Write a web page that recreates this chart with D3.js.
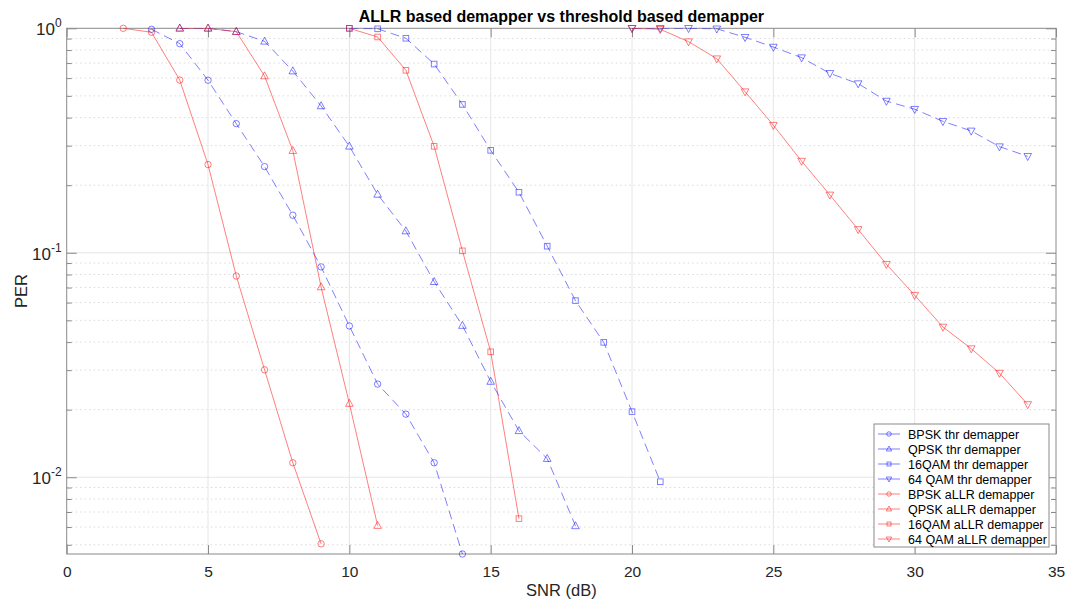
<!DOCTYPE html>
<html>
<head>
<meta charset="utf-8">
<script src="https://cdn.jsdelivr.net/npm/d3@7"></script>
<style>
  body { margin: 0; background: #fff; }
  svg { display: block; font-family: 'Liberation Sans', Arial, sans-serif; }
</style>
</head>
<body>
<script>
// SNR points (dB) and PER values
var snrBpskThr = [3, 4, 5, 6, 7, 8, 9, 10, 11, 12, 13, 14];
var perBpskThr = [0.99, 0.854, 0.587, 0.376, 0.242, 0.147, 0.0865, 0.0472, 0.026, 0.0191, 0.0116, 0.00455];

var snrQpskThr = [4, 5, 6, 7, 8, 9, 10, 11, 12, 13, 14, 15, 16, 17, 18];
var perQpskThr = [1, 1, 0.966, 0.875, 0.645, 0.451, 0.298, 0.182, 0.125, 0.0743, 0.0474, 0.0267, 0.0161, 0.0121, 0.00607];

var snr16qamThr = [10, 11, 12, 13, 14, 15, 16, 17, 18, 19, 20, 21];
var per16qamThr = [1, 0.995, 0.903, 0.693, 0.458, 0.286, 0.186, 0.107, 0.0612, 0.0399, 0.0196, 0.00955];

var snr64qamThr = [20, 21, 22, 23, 24, 25, 26, 27, 28, 29, 30, 31, 32, 33, 34];
var per64qamThr = [1, 1, 1, 0.995, 0.912, 0.825, 0.740, 0.630, 0.567, 0.474, 0.436, 0.385, 0.349, 0.297, 0.269];

var snrBpskAllr = [2, 3, 4, 5, 6, 7, 8, 9];
var perBpskAllr = [1, 0.96, 0.588, 0.247, 0.0788, 0.0301, 0.0116, 0.00505];

var snrQpskAllr = [4, 5, 6, 7, 8, 9, 10, 11];
var perQpskAllr = [1, 1, 0.966, 0.613, 0.285, 0.0704, 0.0213, 0.00609];

var snr16qamAllr = [10, 11, 12, 13, 14, 15, 16];
var per16qamAllr = [1, 0.915, 0.650, 0.298, 0.102, 0.0362, 0.00654];

var snr64qamAllr = [20, 21, 22, 23, 24, 25, 26, 27, 28, 29, 30, 31, 32, 33, 34];
var per64qamAllr = [1, 0.99, 0.872, 0.732, 0.522, 0.370, 0.256, 0.181, 0.127, 0.0889, 0.0647, 0.0467, 0.0374, 0.0291, 0.0211];

var xTicks = [0, 5, 10, 15, 20, 25, 30, 35];
var yDecades = [0, -1, -2];

var series = [
    { name: 'BPSK thr demapper', x: snrBpskThr, y: perBpskThr, color: 'blue', dash: '9,5', marker: 'circle' },
    { name: 'QPSK thr demapper', x: snrQpskThr, y: perQpskThr, color: 'blue', dash: '9,5', marker: 'up' },
    { name: '16QAM thr demapper', x: snr16qamThr, y: per16qamThr, color: 'blue', dash: '9,5', marker: 'square' },
    { name: '64 QAM thr demapper', x: snr64qamThr, y: per64qamThr, color: 'blue', dash: '9,5', marker: 'down' },
    { name: 'BPSK aLLR demapper', x: snrBpskAllr, y: perBpskAllr, color: 'red', dash: null, marker: 'circle' },
    { name: 'QPSK aLLR demapper', x: snrQpskAllr, y: perQpskAllr, color: 'red', dash: null, marker: 'up' },
    { name: '16QAM aLLR demapper', x: snr16qamAllr, y: per16qamAllr, color: 'red', dash: null, marker: 'square' },
    { name: '64 QAM aLLR demapper', x: snr64qamAllr, y: per64qamAllr, color: 'red', dash: null, marker: 'down' }
];

var W = 1067, H = 601;
var plot = { left: 66.7, right: 1056, top: 28.3, bottom: 554 };

var x = d3.scaleLinear().domain([0, 35]).range([plot.left, plot.right]);
var y = d3.scaleLog().domain([0.00455, 1]).range([plot.bottom, plot.top]);

var svg = d3.select('body').append('svg')
    .attr('width', W)
    .attr('height', H);

// minor grid (dotted) for the log axis
var minorVals = [];
yDecades.forEach(function(e) {
    for (var k = 2; k <= 9; k++) {
        var v = k * Math.pow(10, e - 1);
        if (v >= y.domain()[0] && v < 1) { minorVals.push(v); }
    }
});

svg.append('g')
  .selectAll('line')
  .data(minorVals)
  .enter().append('line')
    .attr('x1', plot.left).attr('x2', plot.right)
    .attr('y1', function(d) { return y(d); })
    .attr('y2', function(d) { return y(d); })
    .attr('stroke', '#dadada')
    .attr('stroke-width', 1)
    .attr('stroke-dasharray', '1.5,3');

// major grid
svg.append('g')
  .selectAll('line')
  .data(xTicks.slice(1, -1))
  .enter().append('line')
    .attr('x1', function(d) { return x(d); })
    .attr('x2', function(d) { return x(d); })
    .attr('y1', plot.top).attr('y2', plot.bottom)
    .attr('stroke', '#e6e6e6');

svg.append('g')
  .selectAll('line')
  .data(yDecades.slice(1))
  .enter().append('line')
    .attr('x1', plot.left).attr('x2', plot.right)
    .attr('y1', function(d) { return y(Math.pow(10, d)); })
    .attr('y2', function(d) { return y(Math.pow(10, d)); })
    .attr('stroke', '#e6e6e6');

// axes via d3 axis generators, ticks pointing inward
var axisColor = '#8a8a8a';
var styleAxis = function(g) {
    g.select('.domain').remove();
    g.selectAll('.tick line').attr('stroke', axisColor);
};

svg.append('g')
    .attr('transform', 'translate(0,' + plot.bottom + ')')
    .call(d3.axisBottom(x).tickValues(xTicks).tickSize(-9).tickPadding(12).tickFormat(d3.format('d')))
    .call(styleAxis)
    .call(function(g) {
        g.selectAll('.tick text')
          .attr('fill', '#262626')
          .attr('font-size', 15.5)
          .attr('font-family', "'Liberation Sans', Arial, sans-serif");
    });

svg.append('g')
    .attr('transform', 'translate(0,' + plot.top + ')')
    .call(d3.axisTop(x).tickValues(xTicks).tickSize(-9).tickFormat(''))
    .call(styleAxis);

svg.append('g')
    .attr('transform', 'translate(' + plot.left + ',0)')
    .call(d3.axisLeft(y).tickValues(yDecades.map(function(e) { return Math.pow(10, e); })).tickSize(-10).tickFormat(''))
    .call(styleAxis);

svg.append('g')
    .attr('transform', 'translate(' + plot.right + ',0)')
    .call(d3.axisRight(y).tickValues(yDecades.map(function(e) { return Math.pow(10, e); })).tickSize(-10).tickFormat(''))
    .call(styleAxis);

svg.append('g')
    .attr('transform', 'translate(' + plot.left + ',0)')
    .call(d3.axisLeft(y).tickValues(minorVals).tickSize(-5).tickFormat(''))
    .call(styleAxis);

svg.append('g')
    .attr('transform', 'translate(' + plot.right + ',0)')
    .call(d3.axisRight(y).tickValues(minorVals).tickSize(-5).tickFormat(''))
    .call(styleAxis);

// y tick labels 10^e
var yLab = svg.append('g')
  .selectAll('text')
  .data(yDecades)
  .enter().append('text')
    .attr('x', plot.left - 5)
    .attr('y', function(d) { return y(Math.pow(10, d)) + 7; })
    .attr('text-anchor', 'end')
    .attr('fill', '#262626')
    .attr('font-size', 17);
yLab.append('tspan').text('10');
yLab.append('tspan')
    .attr('dy', -8)
    .attr('font-size', 12)
    .text(function(d) { return String(d); });

// plot box
svg.append('rect')
    .attr('x', plot.left).attr('y', plot.top)
    .attr('width', plot.right - plot.left)
    .attr('height', plot.bottom - plot.top)
    .attr('fill', 'none')
    .attr('stroke', axisColor)
    .attr('stroke-width', 1);

// marker drawing
var drawMarker = function(sel, type, size) {
    var s = size || 1;
    if (type === 'circle') {
        sel.append('circle').attr('r', 3.2 * s);
    } else if (type === 'square') {
        sel.append('rect').attr('x', -2.8 * s).attr('y', -2.8 * s).attr('width', 5.6 * s).attr('height', 5.6 * s);
    } else if (type === 'up') {
        sel.append('path').attr('d', 'M0,' + (-4.2 * s) + 'L' + (3.8 * s) + ',' + (2.8 * s) + 'L' + (-3.8 * s) + ',' + (2.8 * s) + 'Z');
    } else {
        sel.append('path').attr('d', 'M0,' + (4.2 * s) + 'L' + (3.8 * s) + ',' + (-2.8 * s) + 'L' + (-3.8 * s) + ',' + (-2.8 * s) + 'Z');
    }
};

var line = d3.line()
    .x(function(d) { return x(d[0]); })
    .y(function(d) { return y(d[1]); });

svg.append('clipPath').attr('id', 'clip')
  .append('rect')
    .attr('x', plot.left).attr('y', plot.top)
    .attr('width', plot.right - plot.left)
    .attr('height', plot.bottom - plot.top);

series.forEach(function(s) {
    var pts = s.x.map(function(v, i) { return [v, s.y[i]]; });
    var g = svg.append('g');
    g.append('path')
        .datum(pts)
        .attr('clip-path', 'url(#clip)')
        .attr('d', line)
        .attr('fill', 'none')
        .attr('stroke', s.color)
        .attr('stroke-opacity', 0.5)
        .attr('stroke-width', 1)
        .attr('stroke-dasharray', s.dash);
    g.selectAll('g.m')
      .data(pts)
      .enter().append('g')
        .attr('class', 'm')
        .attr('transform', function(d) { return 'translate(' + x(d[0]) + ',' + y(d[1]) + ')'; })
        .attr('fill', 'none')
        .attr('stroke', s.color)
        .attr('stroke-opacity', 0.5)
        .each(function() { drawMarker(d3.select(this), s.marker); });
});

// title and axis labels
svg.append('text')
    .attr('x', (plot.left + plot.right) / 2)
    .attr('y', 22)
    .attr('text-anchor', 'middle')
    .attr('font-size', 16)
    .attr('font-weight', 'bold')
    .attr('fill', '#000')
    .text('ALLR based demapper vs threshold based demapper');

svg.append('text')
    .attr('x', (plot.left + plot.right) / 2)
    .attr('y', 596)
    .attr('text-anchor', 'middle')
    .attr('font-size', 16.5)
    .attr('fill', '#262626')
    .text('SNR (dB)');

svg.append('text')
    .attr('transform', 'translate(27,' + ((plot.top + plot.bottom) / 2) + ') rotate(-90)')
    .attr('text-anchor', 'middle')
    .attr('font-size', 16.5)
    .attr('fill', '#262626')
    .text('PER');

// legend
var leg = { x: 874, y: 424, w: 175, h: 123, row: 15 };
var legend = svg.append('g');
legend.append('rect')
    .attr('x', leg.x).attr('y', leg.y)
    .attr('width', leg.w).attr('height', leg.h)
    .attr('fill', '#fff')
    .attr('stroke', axisColor);

var items = legend.selectAll('g.item')
  .data(series)
  .enter().append('g')
    .attr('class', 'item')
    .attr('transform', function(d, i) { return 'translate(' + leg.x + ',' + (leg.y + 10 + i * leg.row) + ')'; });

items.append('line')
    .attr('x1', 4).attr('x2', 26)
    .attr('stroke', function(d) { return d.color; })
    .attr('stroke-opacity', 0.5);

items.append('g')
    .attr('transform', 'translate(15,0)')
    .attr('fill', 'none')
    .attr('stroke', function(d) { return d.color; })
    .attr('stroke-opacity', 0.5)
    .each(function(d) { drawMarker(d3.select(this), d.marker, 0.7); });

items.append('text')
    .attr('x', 34)
    .attr('y', 4.5)
    .attr('font-size', 12.5)
    .attr('fill', '#000')
    .text(function(d) { return d.name; });
</script>
</body>
</html>
